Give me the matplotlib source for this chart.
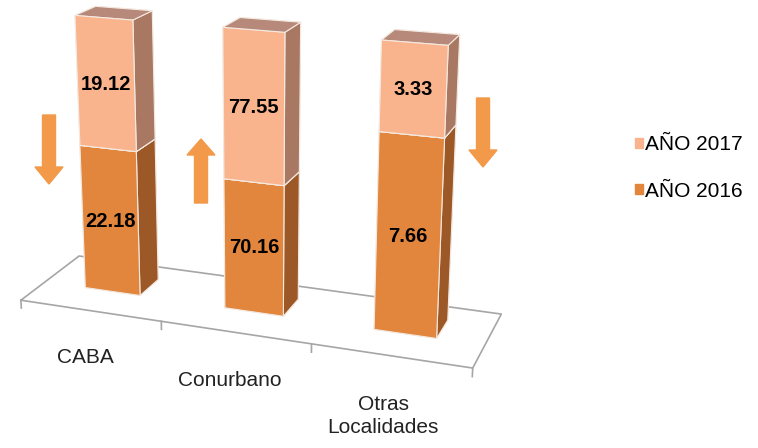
import matplotlib.pyplot as plt
import numpy as np
from matplotlib.patches import Patch

# Datos por región
regiones = ['CABA', 'Conurbano', 'Otras\nLocalidades']
anio_2016 = [22.18, 70.16, 7.66]
anio_2017 = [19.12, 77.55, 3.33]
tendencia = ['baja', 'sube', 'baja']

plt.rcParams['font.family'] = ['Liberation Sans', 'DejaVu Sans']

# columnas apiladas al 100%
total = np.array(anio_2016) + np.array(anio_2017)
pct_2016 = np.array(anio_2016) / total * 100
pct_2017 = np.array(anio_2017) / total * 100

# colores: frente, lateral, tapa
c16 = ('#E1863C', '#9D5827', '#B7897A')
c17 = ('#F9B48D', '#A97863', '#B7897A')
nada = (0, 0, 0, 0)

fig = plt.figure(figsize=(7.58, 4.48), dpi=100)
ax = fig.add_axes([-0.144, -0.024, 0.95, 1.25], projection='3d')
ax.computed_zorder = False
ax.set_proj_type('persp', focal_length=0.5)
ax.view_init(elev=18, azim=-70)

x0, x1 = -0.5, len(regiones) - 0.5
y0, y1 = 0.0, 1.0
ax.set_xlim(x0, x1)
ax.set_ylim(y0, y1)
ax.set_zlim(0, 100)
ax.set_box_aspect((3, 0.85, 1.85))
ax.set_axis_off()

# piso
gris = '#A6A6A6'
ax.plot([x0, x1, x1, x0, x0], [y0, y0, y1, y1, y0], [0, 0, 0, 0, 0],
        color=gris, lw=1.2, zorder=1)
for xt in np.arange(x0, x1 + 0.01, 1.0):
    ax.plot([xt, xt], [y0, y0], [0, -3], color=gris, lw=1.2, zorder=1)

ancho, fondo = 0.4, 0.35
yb = 0.4
for i in range(len(regiones)):
    # caras: abajo, arriba, frente, atrás, izquierda, derecha
    caras = [nada, nada, c16[0], nada, nada, c16[1],
             nada, c17[2], c17[0], nada, nada, c17[1]]
    ax.bar3d([i - ancho / 2] * 2, [yb] * 2, [0, pct_2016[i]],
             ancho, fondo, [pct_2016[i], pct_2017[i]],
             color=caras, shade=False, edgecolor='#F4E9E0', linewidth=0.8,
             zorder=2)
    ax.text(i, yb, pct_2016[i] / 2, f'{anio_2016[i]:.2f}', ha='center',
            va='center', fontsize=14.5, fontweight='bold', zorder=3)
    ax.text(i, yb, pct_2016[i] + pct_2017[i] / 2, f'{anio_2017[i]:.2f}',
            ha='center', va='center', fontsize=14.5, fontweight='bold',
            zorder=3)
    ax.text(i - 0.04, y0, -14.5, regiones[i], ha='center', va='top',
            fontsize=15, color='#222222', linespacing=1.25, zorder=3)

# flechas de variación
ov = fig.add_axes([0, 0, 1, 1])
ov.set_xlim(0, 758)
ov.set_ylim(448, 0)
ov.axis('off')
flechas = [(49, 115, 184), (201, 203, 139), (483, 98, 167)]
for (fx, ya, yb_), t in zip(flechas, tendencia):
    largo = yb_ - ya
    cabeza = 17 if t == 'baja' else 16
    ov.arrow(fx, ya, 0, largo - np.sign(largo) * cabeza, width=13,
             head_width=28, head_length=cabeza, color='#F2994A')

fig.legend(handles=[Patch(color=c17[0], label='AÑO 2017'),
                    Patch(color=c16[0], label='AÑO 2016')],
           loc='center left', bbox_to_anchor=(0.813, 0.625), frameon=False,
           fontsize=15, handlelength=0.4, handleheight=0.4,
           handletextpad=0.1, labelspacing=1.3)

fig.savefig('out.png', dpi=100)
